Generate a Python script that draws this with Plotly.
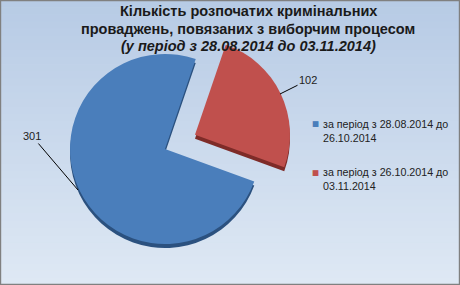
import plotly.graph_objects as go

# Data
categories = ["за період з 28.08.2014 до<br>26.10.2014",
              "за період з 26.10.2014 до<br>03.11.2014"]
values = [301, 102]
colors = ["#4a7ebb", "#c0504d"]
shadow_colors = ["#2b517f", "#7e2b28"]
pulls = [0, 0.35]
title_lines = ["<b>Кількість розпочатих кримінальних</b>",
               "<b>проваджень, повязаних з виборчим процесом</b>",
               "<b><i>(у період з 28.08.2014 до 03.11.2014)</i></b>"]

W, H = 460, 285
cx, cy = 165, 149          # pie centre (px, from top)
r = 95
half = r * (1 + max(pulls))
dom_x = [(cx - half) / W, (cx + half) / W]
dom_y = [(H - cy - half) / H, (H - cy + half) / H]
dy = 4 / H
ROT = 110

fig = go.Figure()
# depth / shadow pie
fig.add_trace(go.Pie(
    labels=categories, values=values, sort=False, direction="counterclockwise",
    rotation=ROT, pull=pulls, textinfo="none", hoverinfo="skip",
    marker=dict(colors=shadow_colors, line=dict(width=0)),
    domain=dict(x=dom_x, y=[max(0, dom_y[0] - dy), dom_y[1] - dy]), showlegend=False,
))
fig.add_trace(go.Pie(
    labels=categories, values=values, sort=False, direction="counterclockwise",
    rotation=ROT, pull=pulls, textinfo="none", showlegend=False,
    marker=dict(colors=colors, line=dict(width=0)),
    domain=dict(x=dom_x, y=dom_y),
))

# gradient background
shapes = []
n = 40
top = (183, 203, 229)
bot = (222, 232, 244)
for i in range(n):
    t = i / (n - 1)
    c = tuple(round(top[k] + (bot[k] - top[k]) * t) for k in range(3))
    shapes.append(dict(type="rect", xref="paper", yref="paper", layer="below",
                       x0=0, x1=1, y1=1 - i / n, y0=1 - (i + 1) / n - 0.002,
                       fillcolor="rgb(%d,%d,%d)" % c, line=dict(width=0)))
shapes.append(dict(type="rect", xref="paper", yref="paper", layer="above",
                   x0=0.001, x1=0.999, y0=0.002, y1=0.998,
                   line=dict(color="#808080", width=1.5)))

annotations = []
for line, yc in zip(title_lines, [11, 29, 46]):
    annotations.append(dict(
        x=248 / W, y=1 - yc / H, xref="paper", yref="paper", text=line,
        showarrow=False, xanchor="center", yanchor="middle",
        font=dict(family="Liberation Sans", size=14.5, color="#1a1a1a")))

# data labels with leader lines
annotations += [
    dict(x=78 / W, y=1 - 190 / H, xref="paper", yref="paper", text=str(values[0]),
         showarrow=True, arrowhead=0, arrowwidth=1, arrowcolor="#000000",
         ax=-46, ay=-54, font=dict(size=11, color="#222222", family="Liberation Sans")),
    dict(x=280 / W, y=1 - 94 / H, xref="paper", yref="paper", text=str(values[1]),
         showarrow=True, arrowhead=0, arrowwidth=1, arrowcolor="#000000",
         ax=28, ay=-14, font=dict(size=11, color="#222222", family="Liberation Sans")),
]

# legend (marker + wrapped text)
legend_top = [115.5, 164]
for cat, col, yt in zip(categories, colors, legend_top):
    annotations.append(dict(
        x=315.5 / W, y=1 - (yt + 8) / H, xref="paper", yref="paper", text="■",
        showarrow=False, xanchor="center", yanchor="middle",
        font=dict(family="DejaVu Sans", size=7.5, color=col)))
    annotations.append(dict(
        x=321 / W, y=1 - yt / H, xref="paper", yref="paper", text=cat,
        showarrow=False, xanchor="left", yanchor="top", align="left",
        font=dict(family="Liberation Sans", size=10.7, color="#222222")))

fig.update_layout(
    width=W, height=H,
    margin=dict(l=0, r=0, t=0, b=0),
    paper_bgcolor="rgb(200,215,235)",
    showlegend=False,
    shapes=shapes,
    annotations=annotations,
)

fig.write_html("out.html")
